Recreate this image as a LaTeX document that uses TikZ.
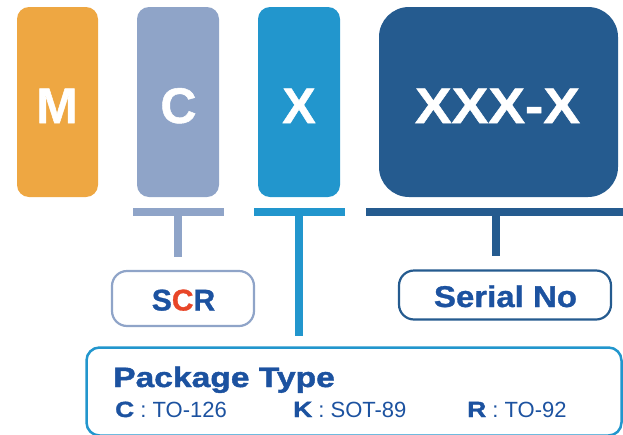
\documentclass[tikz,border=0pt]{standalone}
\usepackage{fontspec}
\setmainfont{Liberation Sans}
\newfontfamily\boldA[FakeBold=1]{Liberation Sans}
\newfontfamily\wideA[FakeStretch=1.1,FakeBold=1]{Liberation Sans}
\newfontfamily\wideB[FakeStretch=1.2,FakeBold=1.5]{Liberation Sans}
\definecolor{corange}{RGB}{238,167,66}
\definecolor{cgray}{RGB}{143,164,200}
\definecolor{cblue}{RGB}{34,150,205}
\definecolor{cdark}{RGB}{37,91,143}
\definecolor{ctext}{RGB}{28,82,160}
\definecolor{cred}{RGB}{232,70,40}
\tikzset{
  letterbox/.style={rectangle, rounded corners=12pt, inner sep=0pt, minimum height=190pt},
  bigletter/.style={text=white, inner sep=0pt, anchor=base, font=\fontsize{50}{50}\selectfont\boldA\bfseries},
  barbox/.style={rectangle, inner sep=0pt, minimum height=8pt},
  conn/.style={line width=8pt},
  labelbox/.style={rectangle, rounded corners=15pt, line width=2.2pt, fill=white, inner sep=0pt},
  labeltext/.style={text=ctext, inner sep=0pt, anchor=base, font=\fontsize{30}{30}\selectfont\boldA\bfseries},
  pkgtext/.style={text=ctext, inner sep=0pt, anchor=base west, font=\fontsize{22}{22}\selectfont},
}
\begin{document}
\begin{tikzpicture}[x=1pt,y=-1pt]
\useasboundingbox (0,0) rectangle (623,434);
% letter boxes
\node[letterbox, fill=corange, minimum width=81pt] (bm) at (57.5,102) {};
\node[letterbox, fill=cgray, minimum width=82pt] (bc) at (178,102) {};
\node[letterbox, fill=cblue, minimum width=82pt] (bx) at (299,102) {};
\node[letterbox, rounded corners=30pt, fill=cdark, minimum width=239pt] (bs) at (498.5,102) {};
\node[bigletter] (tm) at (57,123) {M};
\node[bigletter] (tc) at (178.5,123) {C};
\node[bigletter] (tx) at (299,123) {X};
\node[bigletter, font=\fontsize{50}{50}\selectfont\wideA\bfseries] (ts) at (497.5,123) {XXX-X};
% bars
\node[barbox, fill=cgray, minimum width=91pt] (barc) at (178.5,212) {};
\node[barbox, fill=cblue, minimum width=91pt] (barx) at (299.5,212) {};
\node[barbox, fill=cdark, minimum width=257pt] (bars) at (494.5,212) {};
% label boxes
\node[labelbox, draw=cgray, minimum width=142pt, minimum height=55pt] (scr) at (183,298.5) {};
\node[labelbox, draw=cdark, minimum width=212pt, minimum height=49pt] (ser) at (505,295) {};
\node[labelbox, draw=cblue, rounded corners=13pt, line width=2.5pt, minimum width=535pt, minimum height=88pt] (pkg) at (354,391.5) {};
% connectors
\draw[conn, cgray, shorten >=13pt] ([xshift=-0.5pt]barc.south) -- ([xshift=-0.5pt]barc.south |- scr.north);
\draw[conn, cblue, shorten >=10pt] ([xshift=-0.5pt]barx.south) -- ([xshift=-0.5pt]barx.south |- pkg.north);
\draw[conn, cdark, shorten >=13pt] ([xshift=1.5pt]bars.south) -- ([xshift=1.5pt]bars.south |- ser.north);
% label texts
\node[labeltext] (tscr) at (183.5,310.5) {S\textcolor{cred}{C}R};
\node[labeltext, font=\fontsize{30}{30}\selectfont\wideA\bfseries] (tser) at (505.5,307) {Serial No};
\node[text=ctext, inner sep=0pt, anchor=base west, font=\fontsize{28}{28}\selectfont\wideB\bfseries] (tpkg) at (113,387) {Package Type};
\node[pkgtext] (p1) at (115,417) {{\wideB\bfseries C} : TO-126};
\node[pkgtext] (p2) at (293,417) {{\wideB\bfseries K} : SOT-89};
\node[pkgtext] (p3) at (467,417) {{\wideB\bfseries R} : TO-92};
\end{tikzpicture}
\end{document}
